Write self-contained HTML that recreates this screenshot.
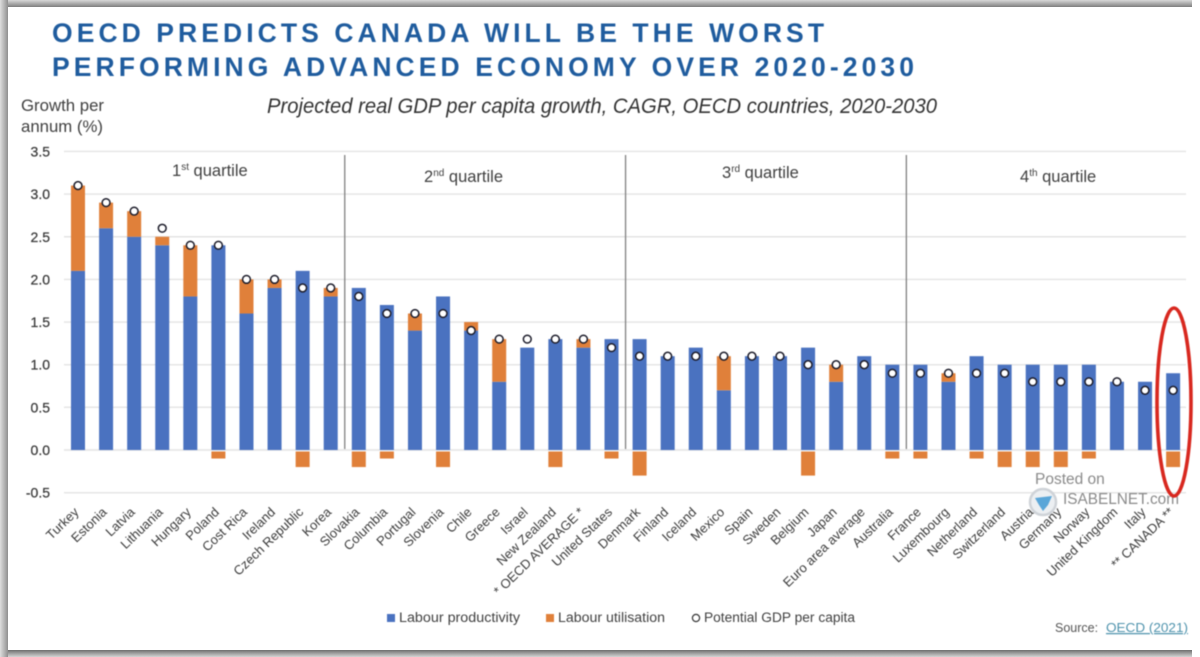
<!DOCTYPE html>
<html lang="en">
<head>
<meta charset="utf-8">
<title>OECD Predicts Canada Will Be The Worst Performing Advanced Economy</title>
<style>
html,body{margin:0;padding:0;background:#fff;}
#stage{position:relative;width:1200px;height:657px;overflow:hidden;background:#fff;font-family:"Liberation Sans",sans-serif;}
.band{position:absolute;}
#chart{position:absolute;left:0;top:0;filter:blur(0.5px);}
text{font-family:"Liberation Sans",sans-serif;}
a{cursor:pointer;}
</style>
</head>
<body>
<div id="stage">
  <div class="band" style="left:0;top:0;width:1192px;height:7px;background:linear-gradient(to bottom,#d8d8d8,#7f7f7f);"></div>
  <div class="band" style="left:0;top:0;width:8px;height:657px;background:linear-gradient(to right,#dedede,#8f8f8f);"></div>
  <div class="band" style="left:8px;top:650px;width:1184px;height:7px;background:linear-gradient(to bottom,#6f6f6f,#d4d4d4);"></div>
  <svg id="chart" xmlns="http://www.w3.org/2000/svg" width="1200" height="657" viewBox="0 0 1200 657">
    <text x="52" y="42" font-size="26.5" font-weight="700" fill="#1f5c9e" textLength="772" lengthAdjust="spacing">OECD PREDICTS CANADA WILL BE THE WORST</text>
    <text x="52" y="76" font-size="26.5" font-weight="700" fill="#1f5c9e" textLength="862" lengthAdjust="spacing">PERFORMING ADVANCED ECONOMY OVER 2020-2030</text>
    <text x="267" y="113" font-size="21" font-style="italic" fill="#333" textLength="670" lengthAdjust="spacingAndGlyphs">Projected real GDP per capita growth, CAGR, OECD countries, 2020-2030</text>
    <text x="21" y="111" font-size="16.8" fill="#404040" textLength="83" lengthAdjust="spacingAndGlyphs">Growth per</text>
    <text x="21" y="132" font-size="16.8" fill="#404040" textLength="82" lengthAdjust="spacingAndGlyphs">annum (%)</text>
    <g id="grid"></g>
    <g id="ticks"></g>
    <g id="seps"></g>
    <text x="172" y="176" font-size="16.5" fill="#404040">1<tspan font-size="10" dy="-6">st</tspan><tspan dy="6"> quartile</tspan></text>
    <text x="424" y="182" font-size="16.5" fill="#404040">2<tspan font-size="10" dy="-6">nd</tspan><tspan dy="6"> quartile</tspan></text>
    <text x="722" y="178" font-size="16.5" fill="#404040">3<tspan font-size="10" dy="-6">rd</tspan><tspan dy="6"> quartile</tspan></text>
    <text x="1020" y="182" font-size="16.5" fill="#404040">4<tspan font-size="10" dy="-6">th</tspan><tspan dy="6"> quartile</tspan></text>
    <g id="bars"></g>
    <g id="dots"></g>
    <g id="xlabels"></g>
    <g>
      <text x="1035" y="484" font-size="15.5" fill="#8a8a8a">Posted on</text>
      <circle cx="1043" cy="502" r="13" fill="#eceff2" stroke="#cfd3d8" stroke-width="2.5"/>
      <path d="M1035 498 L1052 496 L1048 505 L1043 511 L1039 505 Z" fill="#5aa6d8"/>
      <text x="1063" y="504" font-size="15.5" fill="#8a8a8a" textLength="116" lengthAdjust="spacingAndGlyphs">ISABELNET.com</text>
    </g>
    <ellipse cx="1174" cy="402" rx="17" ry="94" fill="none" stroke="#d8281f" stroke-width="3.6"/>
    <g>
      <rect x="387" y="614" width="8" height="8" fill="#4a72c0"/>
      <text x="399" y="622" font-size="13.5" fill="#404040" textLength="121" lengthAdjust="spacingAndGlyphs">Labour productivity</text>
      <rect x="546" y="614" width="8" height="8" fill="#e0803a"/>
      <text x="558" y="622" font-size="13.5" fill="#404040" textLength="107" lengthAdjust="spacingAndGlyphs">Labour utilisation</text>
      <circle cx="696" cy="618" r="3.6" fill="#fff" stroke="#333" stroke-width="1.2"/>
      <text x="704" y="622" font-size="13.5" fill="#404040" textLength="151" lengthAdjust="spacingAndGlyphs">Potential GDP per capita</text>
    </g>
    <text x="1055" y="632" font-size="12.5" fill="#555">Source:</text>
    <text x="1106" y="632" font-size="12.5" fill="#4f93ad" text-decoration="underline" textLength="82" lengthAdjust="spacingAndGlyphs">OECD (2021)</text>
  </svg>
</div>
<script>
const countries = ["Turkey","Estonia","Latvia","Lithuania","Hungary","Poland","Cost Rica","Ireland","Czech Republic","Korea","Slovakia","Columbia","Portugal","Slovenia","Chile","Greece","Israel","New Zealand","* OECD AVERAGE *","United States","Denmark","Finland","Iceland","Mexico","Spain","Sweden","Belgium","Japan","Euro area average","Australia","France","Luxembourg","Netherland","Switzerland","Austria","Germany","Norway","United Kingdom","Italy","** CANADA **"];
const labourProductivity = [2.1,2.6,2.5,2.4,1.8,2.4,1.6,1.9,2.1,1.8,1.9,1.7,1.4,1.8,1.4,0.8,1.2,1.3,1.2,1.3,1.3,1.1,1.2,0.7,1.1,1.1,1.2,0.8,1.1,1.0,1.0,0.8,1.1,1.0,1.0,1.0,1.0,0.8,0.8,0.9];
const labourUtilisation = [1.0,0.3,0.3,0.1,0.6,-0.1,0.4,0.1,-0.2,0.1,-0.2,-0.1,0.2,-0.2,0.1,0.5,0,-0.2,0.1,-0.1,-0.3,0,0,0.4,0,0,-0.3,0.2,0,-0.1,-0.1,0.1,-0.1,-0.2,-0.2,-0.2,-0.1,0,0,-0.2];
const potentialGdp = [3.1,2.9,2.8,2.6,2.4,2.4,2.0,2.0,1.9,1.9,1.8,1.6,1.6,1.6,1.4,1.3,1.3,1.3,1.3,1.2,1.1,1.1,1.1,1.1,1.1,1.1,1.0,1.0,1.0,0.9,0.9,0.9,0.9,0.9,0.8,0.8,0.8,0.8,0.7,0.7];
const yTicks = [3.5,3.0,2.5,2.0,1.5,1.0,0.5,0.0,-0.5];
const quartileBoundaries = [10,20,30];

const NS = "http://www.w3.org/2000/svg";
const xScale = i => 78 + i * 28.08;
const yScale = v => 450 - v * 85.3;
const make = (tag, parent) => {
  const el = document.createElementNS(NS, tag);
  parent.appendChild(el);
  return el;
};
const setAll = (el, attrs) => {
  for (const k in attrs) el.setAttribute(k, attrs[k]);
};

const gridG = document.getElementById("grid");
const tickG = document.getElementById("ticks");
yTicks.forEach(t => {
  const line = make("line", gridG);
  
  
  setAll(line, {x1: 64, x2: 1186, y1: yScale(t), y2: yScale(t), stroke: "#e3e3e3", "stroke-width": 1.4});
  const label = make("text", tickG);
  
  
  setAll(label, {x: 50, y: yScale(t) + 5, "text-anchor": "end", "font-size": 14, fill: "#3a3a3a", stroke: "#3a3a3a", "stroke-width": 0.25});
  label.textContent = t.toFixed(1);
});

const sepG = document.getElementById("seps");
quartileBoundaries.forEach(b => {
  const x = (xScale(b - 1) + xScale(b)) / 2;
  const sep = make("line", sepG);
  
  
  setAll(sep, {x1: x, x2: x, y1: 155, y2: 449, stroke: "#808080", "stroke-width": 1.3});
});

const barG = document.getElementById("bars");
const dotG = document.getElementById("dots");
const labG = document.getElementById("xlabels");
const BAR_W = 14;
countries.forEach((name, i) => {
  const x = xScale(i);
  const p = labourProductivity[i];
  const u = labourUtilisation[i];

  const blue = make("rect", barG);
  
  
  setAll(blue, {x: x - BAR_W / 2, y: yScale(p), width: BAR_W, height: yScale(0) - yScale(p), fill: "#4a72c0"});

  if (u !== 0) {
    const orange = make("rect", barG);
    
    
    if (u > 0) {
      setAll(orange, {x: x - BAR_W / 2, y: yScale(p + u), width: BAR_W, height: yScale(p) - yScale(p + u), fill: "#e0803a"});
    } else {
      setAll(orange, {x: x - BAR_W / 2, y: yScale(0) + 1.5, width: BAR_W, height: yScale(u) - yScale(0) - 1.5, fill: "#e0803a"});
    }
  }

  const dot = make("circle", dotG);
  
  
  setAll(dot, {cx: x, cy: yScale(potentialGdp[i]), r: 3.9, fill: "#fff", stroke: "#1c1c2a", "stroke-width": 1.5});

  const label = make("text", labG);
  
  
  const ax = x + 1.5, ay = 513;
  setAll(label, {x: ax, y: ay, "text-anchor": "end", "font-size": 13, fill: "#3c3c3c", transform: "rotate(-44 " + ax + " " + ay + ")"});
  label.textContent = name;
});
</script>
</body>
</html>
